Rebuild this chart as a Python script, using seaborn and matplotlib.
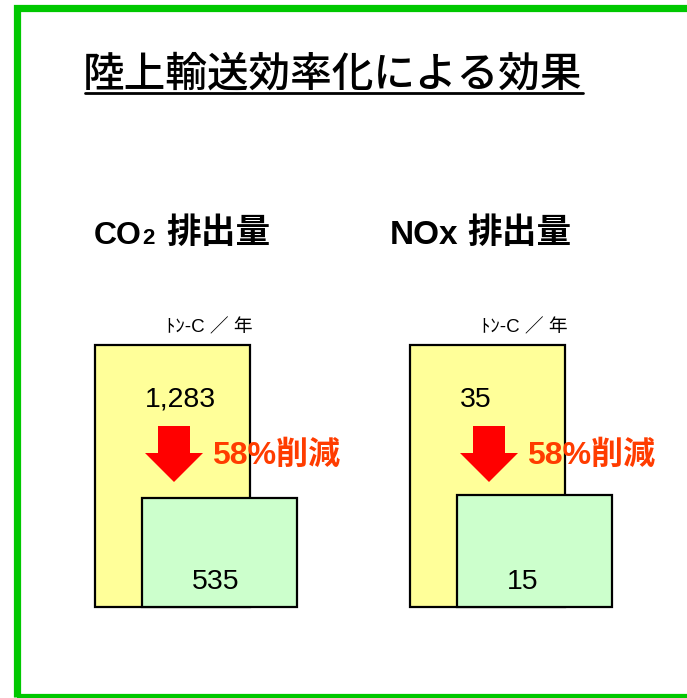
import matplotlib
matplotlib.use("Agg")
import matplotlib.pyplot as plt
import seaborn as sns
from matplotlib.patches import Rectangle, Polygon
from matplotlib.lines import Line2D

# ---- data ----
title = "陸上輸送効率化による効果"
stages = ["効率化前", "効率化後"]
co2_values = [1283, 535]
nox_values = [35, 15]
unit_label = "ﾄﾝ-C ／ 年"
reduction_label = "58%削減"

sns.set_style("white")
plt.rcParams['font.family'] = ['Liberation Sans', 'Noto Sans CJK JP', 'DejaVu Sans']
plt.rcParams['text.color'] = 'black'

W, H = 687, 698
fig = plt.figure(figsize=(W / 100, H / 100), dpi=100)


def fx(px):
    return px / W


def fy(py):
    return 1 - py / H


# green frame
fig.add_artist(Rectangle((fx(17), fy(697)), fx(760) - fx(17), fy(7.5) - fy(697),
                         transform=fig.transFigure, fill=False,
                         edgecolor='#00C800', linewidth=5.2))

# title with underline
fig.text(fx(333), fy(74), title, ha='center', va='center', fontsize=30,
         fontweight='medium', family=['Noto Sans CJK JP', 'DejaVu Sans'], color='black')
fig.add_artist(Line2D([fx(85), fx(583)], [fy(92.5), fy(92.5)], transform=fig.transFigure,
                      color='black', linewidth=2))

# subtitles
base = 244
fig.text(fx(94), fy(base), "CO", ha='left', va='baseline', fontsize=23,
         fontweight='bold', color='black')
fig.text(fx(142), fy(base), "2", ha='left', va='baseline', fontsize=16,
         fontweight='bold', color='black')
fig.text(fx(166), fy(232), "排出量", ha='left', va='center', fontsize=25, fontweight='bold',
         family=['Noto Sans CJK JP'], color='black')
fig.text(fx(390), fy(base), "NOx", ha='left', va='baseline', fontsize=24,
         fontweight='bold', color='black')
fig.text(fx(467), fy(232), "排出量", ha='left', va='center', fontsize=25, fontweight='bold',
         family=['Noto Sans CJK JP'], color='black')

yellow = '#FFFF99'
green = '#CCFFCC'
unit_px = 46.5
bar_px = 155
wd = bar_px / unit_px


def panel(values, left_px, dx):
    span = (1 + wd) * unit_px
    ax = fig.add_axes([fx(left_px), fy(607), span / W, 262 / H])
    sns.barplot(x=stages, y=values, hue=stages, palette=[yellow, green], width=wd,
                saturation=1, edgecolor='black', linewidth=1.6, legend=False, ax=ax)
    for p in ax.patches:
        p.set_clip_on(False)
    ax.set_xlim(-wd / 2, 1 + wd / 2)
    ax.set_ylim(0, max(values))
    ax.axis('off')
    # value labels, left aligned ~50px inside each box
    off = 50 / unit_px
    ax.text(0 - wd / 2 + off, values[0] - 55 / 262 * max(values), f"{values[0]:,}",
            ha='left', va='center', fontsize=20.5, color='black')
    ax.text(1 - wd / 2 + off, 25 / 262 * max(values), f"{values[1]:,}",
            ha='left', va='center', fontsize=20.5, color='black')
    # unit
    fig.text(fx(166 + dx), fy(328), unit_label, ha='left', va='center', fontsize=13.5,
             color='black')
    # arrow
    cx = 174 + dx
    pts = [(cx - 16, 426), (cx + 16, 426), (cx + 16, 453), (cx + 29, 453),
           (cx, 482), (cx - 29, 453), (cx - 16, 453)]
    fig.add_artist(Polygon([(fx(x), fy(y)) for x, y in pts], closed=True,
                           transform=fig.transFigure, facecolor='#FF0000',
                           edgecolor='none'))
    fig.text(fx(212 + dx), fy(456), reduction_label, ha='left', va='center',
             fontsize=23, fontweight='bold', color='#FF3C00')


panel(co2_values, 95, 0)
panel(nox_values, 410, 315)

fig.savefig("out.png", dpi=100)
